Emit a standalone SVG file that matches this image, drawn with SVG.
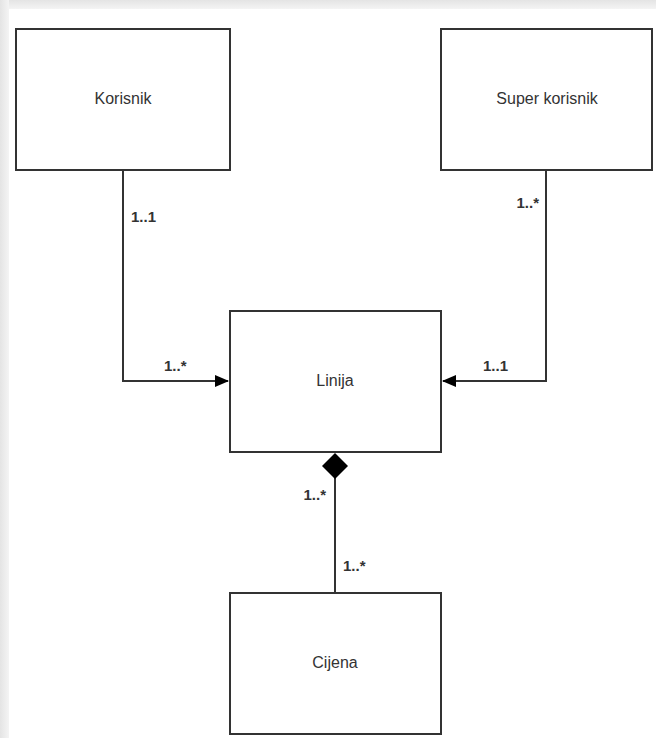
<svg xmlns="http://www.w3.org/2000/svg" width="656" height="738" viewBox="0 0 656 738">
<defs>
<linearGradient id="gt" x1="0" y1="0" x2="0" y2="1"><stop offset="0" stop-color="#e4e4e4"/><stop offset="1" stop-color="#f4f4f4"/></linearGradient>
<linearGradient id="gl" x1="0" y1="0" x2="1" y2="0"><stop offset="0" stop-color="#e4e4e4"/><stop offset="1" stop-color="#f4f4f4"/></linearGradient>
<marker id="arr" markerWidth="14" markerHeight="12" refX="13" refY="6" orient="auto" markerUnits="userSpaceOnUse"><path d="M0,0 L14,6 L0,12 Z" fill="#000"/></marker>
</defs>
<style>
.box{fill:#fff;stroke:#333;stroke-width:2}
.name{font-family:"Liberation Sans",Arial,sans-serif;font-size:16px;fill:#333;text-anchor:middle;dominant-baseline:central}
.lbl{font-family:"Liberation Sans",Arial,sans-serif;font-size:15px;font-weight:bold;fill:#333}
.ln{fill:none;stroke:#333;stroke-width:2}
</style>
<rect x="0" y="0" width="656" height="738" fill="#fff"/>
<rect x="0" y="0" width="656" height="9" fill="url(#gt)"/>
<rect x="0" y="0" width="9" height="738" fill="url(#gl)"/>
<g id="connectors">
<polyline class="ln" points="123,170 123,381 228,381" marker-end="url(#arr)"/>
<polyline class="ln" points="546,170 546,381 443,381" marker-end="url(#arr)"/>
<line class="ln" x1="335" y1="478" x2="335" y2="593"/>
<path d="M335,453 L348,466 L335,479 L322,466 Z" fill="#000"/>
<text class="lbl" x="131" y="222">1..1</text>
<text class="lbl" x="164" y="371">1..*</text>
<text class="lbl" x="539" y="208" text-anchor="end">1..*</text>
<text class="lbl" x="483" y="371">1..1</text>
<text class="lbl" x="326" y="500" text-anchor="end">1..*</text>
<text class="lbl" x="343" y="571">1..*</text>
</g>
<g id="korisnik"><rect class="box" x="16" y="29" width="214" height="141"/><text class="name" x="123" y="98">Korisnik</text></g>
<g id="super-korisnik"><rect class="box" x="441" y="29" width="211" height="141"/><text class="name" x="547" y="98">Super korisnik</text></g>
<g id="linija"><rect class="box" x="230" y="311" width="211" height="141"/><text class="name" x="335" y="380">Linija</text></g>
<g id="cijena"><rect class="box" x="230" y="593" width="211" height="141"/><text class="name" x="335" y="662">Cijena</text></g>
</svg>
